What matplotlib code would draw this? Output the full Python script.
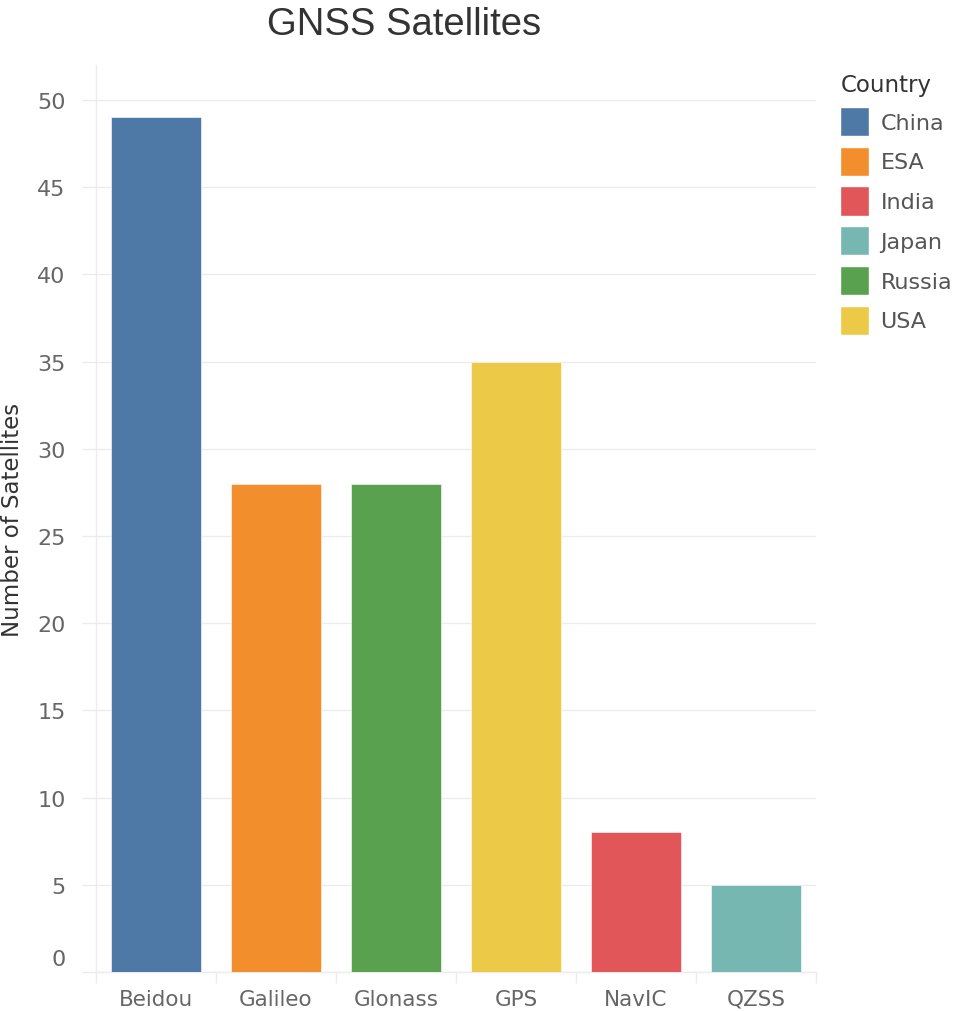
import numpy as np
import matplotlib
matplotlib.use("Agg")
import matplotlib.pyplot as plt
import matplotlib.patches as mpatches
from matplotlib.transforms import ScaledTranslation

# data
systems   = ["Beidou", "Galileo", "Glonass", "GPS", "NavIC", "QZSS"]
owners    = ["China", "ESA", "Russia", "USA", "India", "Japan"]
n_sats    = [49, 28, 28, 35, 8, 5]
countries = ["China", "ESA", "India", "Japan", "Russia", "USA"]
country_colors = {
    "China":  "#4e79a7",
    "ESA":    "#f28e2b",
    "India":  "#e15759",
    "Japan":  "#76b7b2",
    "Russia": "#59a14f",
    "USA":    "#edc948",
}
yticks = np.arange(0, 55, 5)

plt.rcParams["font.family"] = ["Liberation Sans", "DejaVu Sans"]
GRID = "#ececec"

fig = plt.figure(figsize=(9.58, 10.12), dpi=100)
ax = fig.add_axes([96/958, 39/1012, 720/958, 907/1012])

x = np.arange(len(systems))
ax.bar(x, n_sats, width=0.75, color=[country_colors[c] for c in owners],
       edgecolor="white", linewidth=0.4, zorder=3)

ax.set_xlim(-0.5, len(systems) - 0.5)
ax.set_ylim(0, 52)
ax.set_yticks(yticks)
ax.set_xticks(x)
ax.set_xticklabels(systems, fontsize=15.5, color="#666666",
                   family=["DejaVu Sans"])
ax.set_xticks(np.arange(-0.5, len(systems)), minor=True)
ax.tick_params(axis="x", which="major", length=0, pad=12)
ax.tick_params(axis="x", which="minor", length=8, color=GRID, width=1)
ax.tick_params(axis="y", which="major", length=10, color=GRID, width=1,
               labelsize=16, labelcolor="#666666", pad=12)
for lbl in ax.get_yticklabels():
    lbl.set_family(["DejaVu Sans"])
# Tableau nudges the bottom label up
ax.get_yticklabels()[0].set_transform(
    ax.get_yticklabels()[0].get_transform()
    + ScaledTranslation(0, 15/100, fig.dpi_scale_trans))

ax.grid(axis="y", color=GRID, linewidth=1, zorder=0)
for s in ("top", "right"):
    ax.spines[s].set_visible(False)
for s in ("left", "bottom"):
    ax.spines[s].set_color(GRID)
    ax.spines[s].set_linewidth(1)

ax.set_ylabel("Number of Satellites", fontsize=16.5, color="#333333",
              family=["DejaVu Sans"], labelpad=9)

fig.text(404/958, 1 - 25/1012, "GNSS Satellites", ha="center", va="center",
         fontsize=27.5, color="#333333")

handles = [mpatches.Patch(facecolor=country_colors[c], edgecolor="white",
                          label=c) for c in countries]
leg = fig.legend(handles=handles, loc="upper left",
                 bbox_to_anchor=(836/958, 1 - 70/1012), frameon=False,
                 title="Country", alignment="left",
                 prop={"family": "DejaVu Sans", "size": 16},
                 handlelength=1.3, handleheight=1.65, handletextpad=0.5,
                 labelspacing=0.47, borderaxespad=0, borderpad=0.2)
for t in leg.get_texts():
    t.set_color("#555555")
leg.get_title().set_fontsize(16.5)
leg.get_title().set_color("#333333")
leg.get_title().set_family(["DejaVu Sans"])

fig.savefig("out.png", dpi=100)
